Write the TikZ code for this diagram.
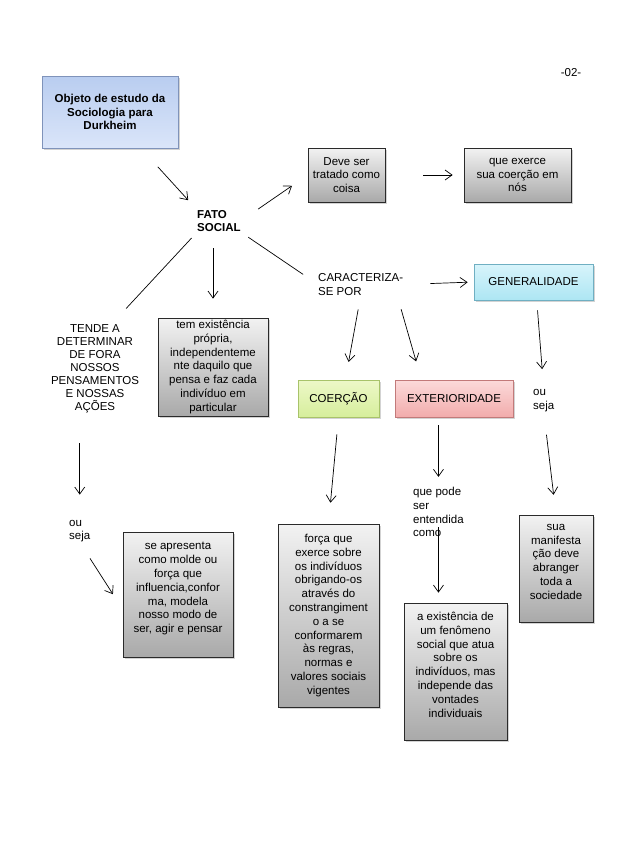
\documentclass[tikz,border=0pt]{standalone}
\usepackage{fontspec}
\setmainfont{Liberation Sans}
\usetikzlibrary{arrows.meta,shadows}

\definecolor{cinzatopo}{HTML}{F2F2F2}
\definecolor{cinzabase}{HTML}{A9A9A9}
\definecolor{cinzaborda}{HTML}{2A2A2A}
\definecolor{azultopo}{HTML}{B9CDF0}
\definecolor{azulbase}{HTML}{DAE5F9}
\definecolor{azulborda}{HTML}{7F93BA}
\definecolor{cianotopo}{HTML}{D8F4FB}
\definecolor{cianobase}{HTML}{ADE6F3}
\definecolor{cianoborda}{HTML}{6FAFC2}
\definecolor{verdetopo}{HTML}{EDF8C8}
\definecolor{verdebase}{HTML}{D6EE9C}
\definecolor{verdeborda}{HTML}{A8C36A}
\definecolor{vermtopo}{HTML}{FBDADA}
\definecolor{vermbase}{HTML}{F2ACAC}
\definecolor{vermborda}{HTML}{C27A7A}

\tikzset{
  caixa/.style={draw, line width=0.7pt, align=center, inner sep=1pt,
    drop shadow={shadow xshift=1.5pt, shadow yshift=-2pt, opacity=0.35}},
  cinza/.style={caixa, draw=cinzaborda, top color=cinzatopo, bottom color=cinzabase},
  azul/.style={caixa, draw=azulborda, top color=azultopo, bottom color=azulbase},
  ciano/.style={caixa, draw=cianoborda, top color=cianotopo, bottom color=cianobase},
  verde/.style={caixa, draw=verdeborda, top color=verdetopo, bottom color=verdebase},
  vermelho/.style={caixa, draw=vermborda, top color=vermtopo, bottom color=vermbase},
  texto/.style={align=left, inner sep=0pt, anchor=west},
  seta/.style={-{Straight Barb[length=7pt,width=10pt]}, line width=0.7pt},
  linha/.style={line width=0.7pt}
}

\begin{document}
\begin{tikzpicture}[x=1pt, y=-1pt, font=\fontsize{11.5}{13.8}\selectfont]
  \useasboundingbox (0,0) rectangle (638,851);

  \node (pagina) at (571,73) {-02-};

  %Objeto de estudo
  \node[azul, font=\fontsize{11.5}{13.8}\selectfont\bfseries, minimum width=136pt, minimum height=72pt]
    (objeto) at (110,112) {Objeto de estudo da\\Sociologia para\\Durkheim};

  \node[texto, font=\fontsize{11.5}{13.8}\selectfont\bfseries] (fato) at (197,221) {FATO\\SOCIAL};
  \draw[seta, shorten <=25pt, shorten >=13pt] ([xshift=31pt]objeto.south) -- (fato.north west);

    %Deve ser tratado como coisa
    \node[cinza, minimum width=77pt, minimum height=54pt] (deve) at (346.5,175) {Deve ser\\tratado como\\coisa};
    \draw[seta, shorten <=21pt, shorten >=19pt] (fato.east) -- (deve.west);
    \node[cinza, minimum width=107pt, minimum height=54pt] (exerce) at (517.5,175) {que exerce\\sua coerção em\\nós};
    \draw[seta, shorten <=38pt, shorten >=11pt] (deve.east) -- (exerce.west);

    %Tem existência própria
    \node[cinza, minimum width=110pt, minimum height=98pt] (existencia) at (213,367)
      {tem existência\\própria,\\independenteme\\nte daquilo que\\pensa e faz cada\\indivíduo em\\particular};
    \draw[seta, shorten <=16pt, shorten >=19pt] (fato.south -| existencia.north) -- (existencia.north);

    %Tende a determinar
    \node[align=center, inner sep=0pt, font=\fontsize{11.5}{13}\selectfont] (tende) at (95,369)
      {TENDE A\\DETERMINAR\\DE FORA\\NOSSOS\\PENSAMENTOS\\E NOSSAS\\AÇÕES};
    \draw[linha, shorten <=8pt, shorten >=22pt] (fato.south west) -- (tende.70);
      \node[texto] (ouseja2) at (69,531) {ou\\seja};
      \draw[seta, shorten <=30pt, shorten >=25pt] (tende.south -| ouseja2.north) -- (ouseja2.north);
      \node[cinza, minimum width=110pt, minimum height=125pt] (molde) at (178,594.5)
        {se apresenta\\como molde ou\\força que\\influencia,confor\\ma, modela\\nosso modo de\\ser, agir e pensar\\\mbox{}};
      \draw[seta, shorten <=19pt, shorten >=18pt] (ouseja2.south) -- (molde.195);

    %Caracteriza-se por
    \node[texto] (carac) at (318,284.5) {CARACTERIZA-\\SE POR};
    \draw[linha, shorten <=9pt, shorten >=18pt] (fato.south east) -- (carac.west);

      %Generalidade
      \node[ciano, minimum width=119pt, minimum height=36pt] (geral) at (533.5,282) {GENERALIDADE};
      \draw[seta, shorten <=27pt, shorten >=6pt] (carac.east) -- (geral.west);
      \node[texto] (ouseja) at (533,400.5) {ou\\seja};
      \draw[seta, shorten <=10pt, shorten >=20pt] (geral.-80) -- (ouseja.north);
      \node[cinza, minimum width=74pt, minimum height=107pt] (sua) at (556,568.5)
        {sua\\manifesta\\ção deve\\abranger\\toda a\\sociedade\\\mbox{}};
      \draw[seta, shorten <=23pt, shorten >=20pt] (ouseja.south) -- (sua.north);

      %Coerção
      \node[verde, minimum width=81pt, minimum height=37pt] (coercao) at (338.5,398.5) {COERÇÃO};
      \draw[seta, shorten <=14pt, shorten >=18pt] (carac.south) -- (coercao.70);
      \node[cinza, minimum width=101pt, minimum height=183pt] (forca) at (328.5,615.5)
        {força que\\exerce sobre\\os indivíduos\\obrigando-os\\através do\\constrangiment\\o a se\\conformarem\\às regras,\\normas e\\valores sociais\\vigentes};
      \draw[seta, shorten <=17pt, shorten >=21pt] (coercao.south) -- (forca.north);

      %Exterioridade
      \node[vermelho, minimum width=118pt, minimum height=37pt] (exterior) at (454,398.5) {EXTERIORIDADE};
      \draw[seta, shorten <=14pt, shorten >=19pt] (carac.-17) -- (exterior.150);
      \node[texto] (quepode) at (413,512) {que pode\\ser\\entendida\\como};
      \draw[seta, shorten <=8pt, shorten >=10pt] (exterior.south -| quepode.north) -- (quepode.north);
      \node[cinza, minimum width=103pt, minimum height=137pt] (fenomeno) at (455.5,671.5)
        {a existência de\\um fenômeno\\social que atua\\sobre os\\indivíduos, mas\\independe das\\vontades\\individuais\\\mbox{}};
      \draw[seta, shorten <=15pt, shorten >=10pt] (quepode.center) -- (quepode.center |- fenomeno.north);
\end{tikzpicture}
\end{document}
